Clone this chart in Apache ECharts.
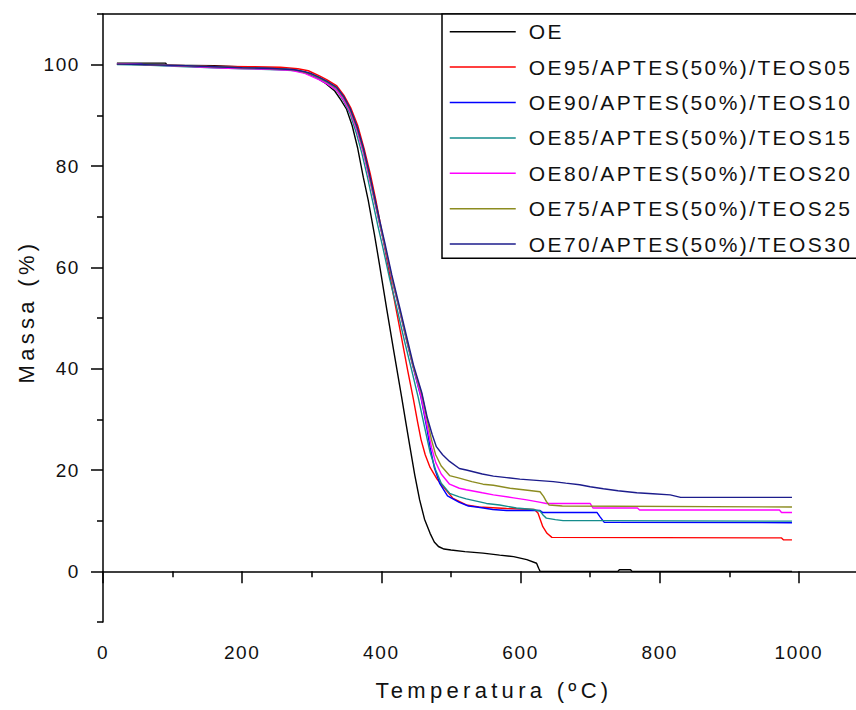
<!DOCTYPE html>
<html>
<head>
<meta charset="utf-8">
<script src="https://cdn.jsdelivr.net/npm/echarts@6/dist/echarts.min.js"></script>
<style>
html,body{margin:0;padding:0;background:#fff;}
#chart{width:856px;height:710px;}
#chart text{letter-spacing:0.1em;}
#chart text[style*="19px"]{letter-spacing:1.6px;}
#chart text[style*="21px"]{letter-spacing:2.4px;}
#chart text[style*="22px"]{letter-spacing:4.3px;}
</style>
</head>
<body>
<div id="chart"></div>
<script>
// ---- data (Temperature °C, Mass %) ----
const seriesNames = ['OE','OE95/APTES(50%)/TEOS05','OE90/APTES(50%)/TEOS10','OE85/APTES(50%)/TEOS15','OE80/APTES(50%)/TEOS20','OE75/APTES(50%)/TEOS25','OE70/APTES(50%)/TEOS30'];
const xTicks = [0,200,400,600,800,1000];
const xMinorTicks = [100,300,500,700,900];
const yTicks = [0,20,40,60,80,100];
const yMinorTicks = [-10,10,30,50,70,90,110];

const dataOE = [[20,100.3],[90,100.3],[92,99.9],[160,99.8],[210,99.5],[250,99.3],[275,98.9],[290,98.4],[305,97.6],[320,96.3],[333,94.8],[342,93],[350,91.2],[358,88],[366,83.5],[374,77.8],[381,73.3],[390,66.5],[397,60.8],[408,51.5],[418,43.3],[429,34.5],[435,29.5],[441,24.6],[448,19],[455,14.1],[462,10.3],[470,7.5],[476,5.8],[482,4.9],[490,4.4],[500,4.2],[520,3.9],[546,3.6],[570,3.2],[590,2.9],[609,2.3],[623,1.6],[626,0.6],[628,0],[740,0],[742,0.3],[758,0.3],[760,0],[990,0]];
const dataOE95 = [[20,100.1],[60,100.0],[150,99.7],[210,99.6],[255,99.5],[280,99.2],[295,98.8],[311,97.8],[322,97.0],[336,95.8],[346,94.0],[356,91.5],[366,88],[376,83],[384,78.5],[392,73.3],[400,67.5],[408,61.5],[418,54],[428,46.8],[438,39.5],[446,34],[452,29.5],[457,26],[463,23],[470,20.5],[480,18.2],[489,16.7],[503,14.4],[522,13.1],[540,12.7],[580,12.4],[620,12.2],[625,11.5],[632,8.8],[638,7.5],[645,6.7],[975,6.6],[978,6.2],[990,6.2]];
const dataOE90 = [[20,100.1],[55,100.1],[60,99.9],[120,99.8],[140,99.5],[200,99.4],[250,99.2],[275,99.0],[290,98.5],[300,98.1],[311,97.4],[322,96.6],[336,95.3],[346,93.4],[355,91.0],[365,87.3],[374,83],[382,78.3],[390,73.3],[398,68.3],[405,64.1],[415,57.8],[426,51.6],[436,45.7],[446,40.1],[457,34.3],[465,28.5],[470,24.5],[476,20.5],[484,17.3],[495,14.9],[512,13.6],[525,12.9],[537,12.7],[560,12.2],[580,12.0],[628,12.0],[632,11.6],[710,11.6],[714,10.8],[720,9.7],[990,9.6]];
const dataOE85 = [[20,100.0],[60,99.9],[120,99.6],[200,99.2],[250,99.0],[280,98.8],[295,98.3],[311,97.2],[322,96.3],[336,94.9],[346,92.8],[355,90.3],[364,86.5],[372,82.5],[380,77.8],[387,73.3],[395,68.2],[402,64.0],[412,57.7],[423,51.5],[433,45.6],[443,40.0],[453,34.3],[462,28.5],[470,23.5],[478,20],[486,17.4],[498,15.4],[512,14.7],[522,14.3],[551,13.4],[570,13.1],[594,12.5],[618,12.2],[628,11.9],[633,11.0],[637,10.5],[650,10.2],[661,10.0],[725,10.0],[990,9.9]];
const dataOE80 = [[20,100.2],[60,100.0],[120,99.7],[180,99.3],[240,99.1],[270,98.9],[290,98.3],[311,97.0],[322,96.2],[336,94.9],[346,93.0],[355,90.7],[365,87],[374,82.7],[382,78],[390,73.3],[398,68.3],[405,64.2],[415,57.9],[426,51.8],[436,45.9],[446,40.3],[457,34.5],[465,29.2],[472,24.5],[478,21.5],[486,19.2],[498,17.2],[512,16.4],[522,16.1],[545,15.5],[561,15.1],[590,14.5],[609,14.1],[625,13.7],[637,13.4],[700,13.4],[704,12.5],[768,12.5],[771,12.1],[972,12.1],[975,11.6],[990,11.6]];
const dataOE75 = [[20,100.1],[60,100.0],[120,99.8],[200,99.4],[250,99.2],[275,99.0],[290,98.5],[300,98.1],[311,97.4],[322,96.6],[336,95.3],[346,93.5],[355,91.1],[365,87.5],[374,83.2],[382,78.5],[390,73.5],[398,68.5],[405,64.3],[415,58],[426,51.8],[436,45.9],[446,40.3],[458,35],[466,29.8],[472,26],[478,23],[486,20.8],[498,18.9],[512,18.4],[530,17.7],[546,17.2],[561,17.0],[585,16.4],[610,16.0],[628,15.7],[633,14.8],[637,13.8],[641,13.1],[660,12.9],[990,12.7]];
const dataOE70 = [[20,100.1],[60,100.0],[120,99.8],[200,99.4],[250,99.2],[275,99.0],[290,98.6],[300,98.2],[311,97.5],[322,96.7],[336,95.5],[346,93.7],[355,91.4],[365,87.8],[374,83.6],[382,79],[390,74],[398,69],[405,64.8],[415,58.5],[426,52.3],[436,46.5],[446,40.8],[458,35.3],[466,30.3],[473,27],[479,24.6],[488,23],[498,21.7],[512,20.3],[522,20.0],[545,19.2],[561,18.8],[580,18.5],[599,18.2],[618,18.0],[647,17.7],[665,17.4],[685,17.1],[700,16.7],[719,16.3],[740,15.9],[767,15.5],[790,15.3],[815,15.1],[830,14.6],[990,14.6]];

const seriesData = [dataOE, dataOE95, dataOE90, dataOE85, dataOE80, dataOE75, dataOE70];
const seriesColors = ['#000000','#ff0000','#0000ff','#148c8c','#ff00ff','#8c8c20','#1c1c8c'];

const FONT = 'Liberation Sans';
const TXT = '#111';

const chart = echarts.init(document.getElementById('chart'), null, {renderer: 'svg'});
chart.setOption({
  animation: false,
  backgroundColor: '#fff',
  grid: {left: 103, top: 14, right: 0, bottom: 88},
  legend: {
    orient: 'vertical',
    left: 442, top: 14,
    padding: [6.7, 120, 3.2, 7],
    backgroundColor: '#fff',
    borderColor: '#000', borderWidth: 1.5,
    itemWidth: 66, itemHeight: 14, itemGap: 13.4,
    selectedMode: false,
    itemStyle: {opacity: 0, color: 'rgba(0,0,0,0)', borderWidth: 0},
    lineStyle: {width: 1.5},
    textStyle: {fontFamily: FONT, fontSize: 21, color: TXT, lineHeight: 22, padding: [0,0,0,8]},
    data: seriesNames
  },
  xAxis: [
    {
      type: 'value', min: 0, max: 1082, interval: 100, position: 'bottom',
      name: 'Temperatura (ºC)', nameLocation: 'middle', nameGap: 57,
      nameTextStyle: {fontFamily: FONT, fontSize: 22, color: TXT, padding: [0,0,0,29]},
      axisLine: {show: true, lineStyle: {color: '#000', width: 1.5}},
      axisTick: {show: true, length: 12, lineStyle: {color: '#000', width: 1.5}, customValues: xTicks},
      axisLabel: {fontFamily: FONT, fontSize: 19, color: TXT, margin: 21, customValues: xTicks,
                  formatter: v => String(v)},
      splitLine: {show: false}
    },
    {
      type: 'value', min: 0, max: 1082, interval: 100, position: 'bottom', gridIndex: 0,
      axisLine: {show: false},
      axisTick: {show: true, length: 6, lineStyle: {color: '#000', width: 1.5}, customValues: xMinorTicks},
      axisLabel: {show: false},
      splitLine: {show: false}
    },
    {
      type: 'value', min: 0, max: 1082, interval: 100, position: 'top', gridIndex: 0,
      axisLine: {show: true, lineStyle: {color: '#000', width: 1.5}},
      axisTick: {show: false},
      axisLabel: {show: false},
      splitLine: {show: false}
    }
  ],
  yAxis: [
    {
      type: 'value', min: -10, max: 110, interval: 10, position: 'left',
      name: 'Massa (%)', nameLocation: 'middle', nameRotate: 90, nameGap: 65,
      nameTextStyle: {fontFamily: FONT, fontSize: 22, color: TXT, padding: [0,0,0,13]},
      axisLine: {show: true, lineStyle: {color: '#000', width: 1.5}},
      axisTick: {show: true, length: 12, lineStyle: {color: '#000', width: 1.5}, customValues: yTicks},
      axisLabel: {fontFamily: FONT, fontSize: 19, color: TXT, margin: 23, customValues: yTicks,
                  formatter: v => String(v)},
      splitLine: {show: false}
    },
    {
      type: 'value', min: -10, max: 110, interval: 10, position: 'left',
      axisLine: {show: false},
      axisTick: {show: true, length: 6, lineStyle: {color: '#000', width: 1.5}, customValues: yMinorTicks},
      axisLabel: {show: false},
      splitLine: {show: false}
    }
  ],
  series: seriesNames.map((name, i) => ({
    name: name,
    type: 'line',
    xAxisIndex: 0, yAxisIndex: 0,
    data: seriesData[i],
    symbol: 'none',
    smooth: false,
    color: seriesColors[i],
    lineStyle: {color: seriesColors[i], width: 1.4},
    z: 2 + i
  }))
});
</script>
</body>
</html>
